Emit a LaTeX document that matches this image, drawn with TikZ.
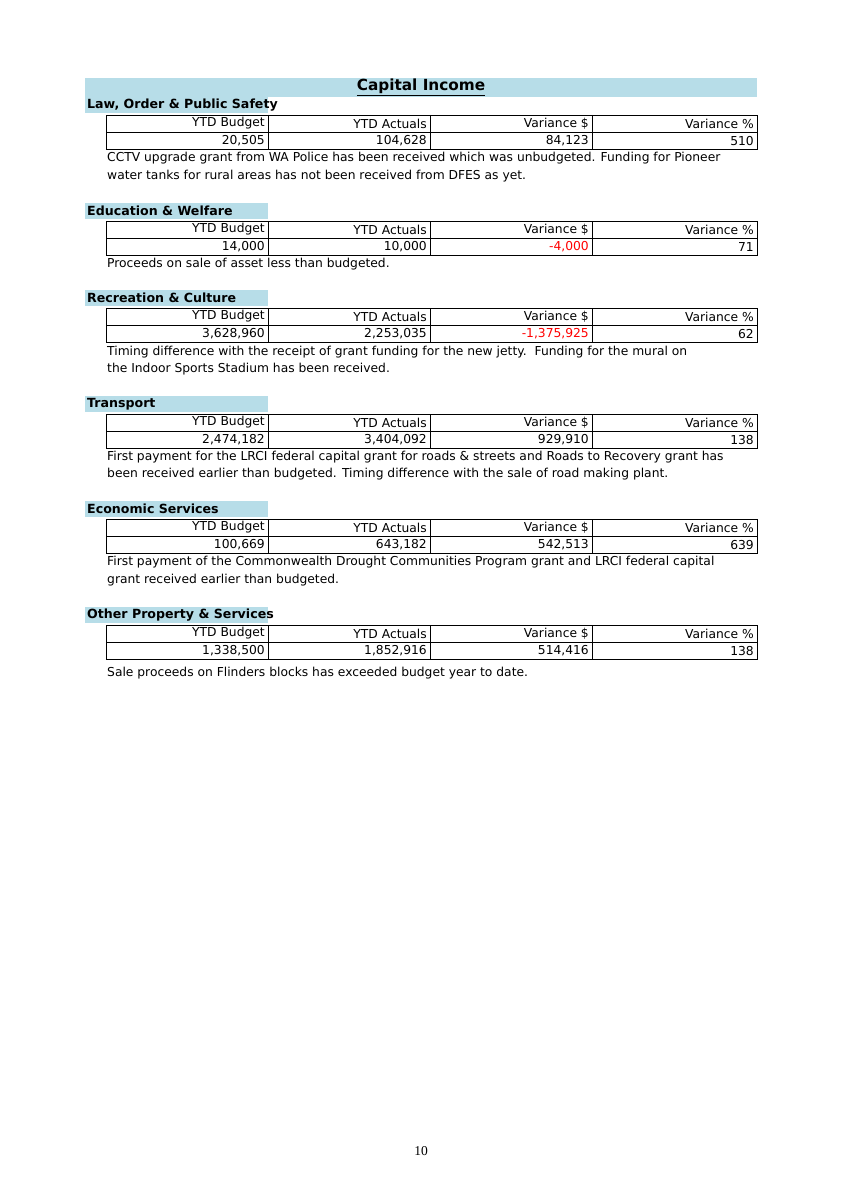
\documentclass[tikz,border=0pt]{standalone}
\usepackage{fontspec}
\setmainfont{DejaVu Sans}
\newfontfamily\pgnum{Liberation Serif}
\definecolor{band}{HTML}{B7DDE8}
\begin{document}
\begin{tikzpicture}[x=1pt,y=-1pt,
  txt/.style={font=\fontsize{12.3}{14}\selectfont,inner sep=0pt},
  hd/.style={font=\fontsize{12.6}{14}\selectfont\bfseries,inner sep=0pt,anchor=west}]
\useasboundingbox (0,0) rectangle (843,1193);
\fill[band] (85,78) rectangle (757,97);
\node[font=\fontsize{15.3}{17}\selectfont\bfseries,inner sep=0pt] (title) at (421,87) {\underline{Capital Income}};
\newcommand\sect[8]{%
  \fill[band] (85,#1-8) rectangle (268,#1+8);
  \node[hd] (h#8) at (87,#1) {#2};
  \draw[line width=0.8pt] (106,#1+10) rectangle (757,#1+44);
  \draw[line width=0.8pt] (106,#1+27) -- (757,#1+27);
  \foreach \xx in {268,430,592} \draw[line width=0.8pt] (\xx,#1+10) -- (\xx,#1+44);
  \node[txt,anchor=east] at (265,#1+18.5) {YTD Budget};
  \node[txt,anchor=east] at (427,#1+18.5) {YTD Actuals};
  \node[txt,anchor=east] at (589,#1+18.5) {Variance \$};
  \node[txt,anchor=east] at (754,#1+18.5) {Variance \%};
  \node[txt,anchor=east] at (265,#1+36) {#3};
  \node[txt,anchor=east] at (427,#1+36) {#4};
  \node[txt,anchor=east,text=#7] at (589,#1+36) {#5};
  \node[txt,anchor=east] at (754,#1+36) {#6};
}
\sect{105}{Law, Order \& Public Safety}{20,505}{104,628}{84,123}{510}{black}{a}
\sect{211}{Education \& Welfare}{14,000}{10,000}{-4,000}{71}{red}{b}
\sect{298}{Recreation \& Culture}{3,628,960}{2,253,035}{-1,375,925}{62}{red}{c}
\sect{404}{Transport}{2,474,182}{3,404,092}{929,910}{138}{black}{d}
\sect{509}{Economic Services}{100,669}{643,182}{542,513}{639}{black}{e}
\sect{615}{Other Property \& Services}{1,338,500}{1,852,916}{514,416}{138}{black}{f}
\tikzset{note/.style={txt,anchor=west}}
\node[note] at (107,158) {CCTV upgrade grant from WA Police has been received which was unbudgeted. Funding for Pioneer};
\node[note] at (107,176) {water tanks for rural areas has not been received from DFES as yet.};
\node[note] at (107,264) {Proceeds on sale of asset less than budgeted.};
\node[note] at (107,352) {Timing difference with the receipt of grant funding for the new jetty.\ \ Funding for the mural on};
\node[note] at (107,369) {the Indoor Sports Stadium has been received.};
\node[note] at (107,457) {First payment for the LRCI federal capital grant for roads \& streets and Roads to Recovery grant has};
\node[note] at (107,474) {been received earlier than budgeted. Timing difference with the sale of road making plant.};
\node[note] at (107,562) {First payment of the Commonwealth Drought Communities Program grant and LRCI federal capital};
\node[note] at (107,580) {grant received earlier than budgeted.};
\node[note] at (107,673) {Sale proceeds on Flinders blocks has exceeded budget year to date.};
\node[font=\pgnum\fontsize{13.5}{15}\selectfont,inner sep=0pt] (pg) at (421,1151) {10};
\end{tikzpicture}
\end{document}
